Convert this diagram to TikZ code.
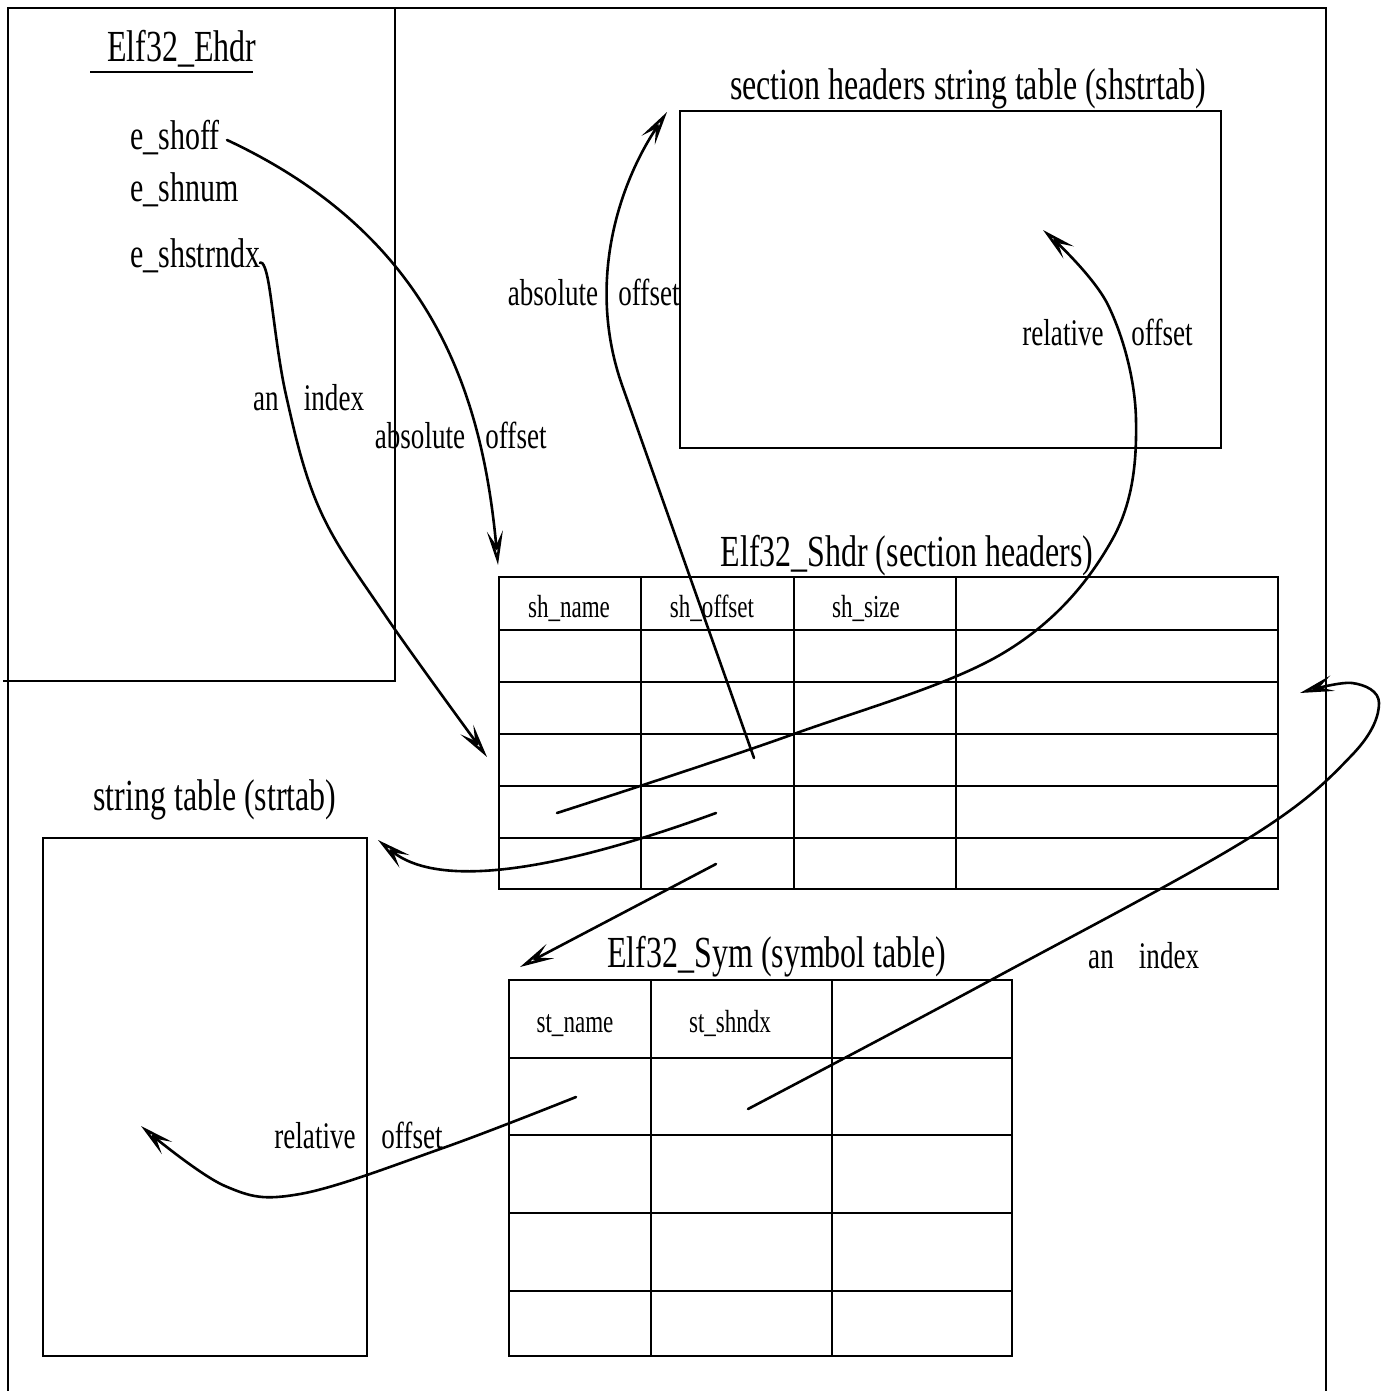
\documentclass[tikz,border=0pt]{standalone}
\usepackage{fontspec}
\newfontfamily\figfont[FakeStretch=0.72]{Liberation Serif}
\usetikzlibrary{arrows.meta}
\begin{document}
\begin{tikzpicture}[x=0.5pt,y=-0.5pt,
  frame/.style={line width=1pt},
  conn/.style={line width=1.3pt, line join=round, line cap=round,
    -{Stealth[open,length=17pt,width=8pt,inset=7pt]}},
  ttl/.style={font=\figfont\fontsize{22.2}{26}\selectfont, anchor=base, inner sep=0pt},
  fld/.style={font=\figfont\fontsize{20.8}{25}\selectfont, anchor=base west, inner sep=0pt},
  lbl/.style={font=\figfont\fontsize{18.8}{23}\selectfont, anchor=base, inner sep=0pt},
  cellt/.style={font=\figfont\fontsize{16}{19}\selectfont, anchor=base, inner sep=0pt}]
\useasboundingbox (0,0) rectangle (1386,1391);

% outer frame and Ehdr box
\draw[frame] (8,1391) -- (8,8) -- (1326,8) -- (1326,1391);
\draw[frame] (395,8) -- (395,681) -- (3,681);

% Ehdr contents
\node[ttl] (ehdrT) at (182,62) {Elf32\_Ehdr};
\draw[line width=1pt] (90,72) -- (253,72);
\node[fld] (eshoff) at (130,150) {e\_shoff};
\node[fld] (eshnum) at (130,202) {e\_shnum};
\node[fld] (eshstrndx) at (130,268) {e\_shstrndx};

% shstrtab
\node[ttl] (shstrT) at (968,100) {section headers string table (shstrtab)};
\draw[frame] (680,111) rectangle (1221,448);

% Shdr table
\node[ttl] (shdrT) at (907,566) {Elf32\_Shdr (section headers)};
\draw[frame] (499,577) rectangle (1278,889);
\foreach \yy in {630,682,734,786,838} \draw[frame] (499,\yy) -- (1278,\yy);
\foreach \xx in {641,794,956} \draw[frame] (\xx,577) -- (\xx,889);
\node[cellt] (shname) at (569,617) {sh\_name};
\node[cellt] (shoffset) at (712,617) {sh\_offset};
\node[cellt] (shsize) at (866,617) {sh\_size};

% strtab
\node[ttl] (strT) at (215,810) {string table (strtab)};
\draw[frame] (43,838) rectangle (367,1356);

% Sym table
\node[ttl] (symT) at (777,967) {Elf32\_Sym (symbol table)};
\draw[frame] (509,980) rectangle (1012,1356);
\foreach \yy in {1058,1135,1213,1291} \draw[frame] (509,\yy) -- (1012,\yy);
\foreach \xx in {651,832} \draw[frame] (\xx,980) -- (\xx,1356);
\node[cellt] (stname) at (575,1032) {st\_name};
\node[cellt] (stshndx) at (730,1032) {st\_shndx};

% labels
\node[lbl] (l1a) at (266,410) {an};
\node[lbl] (l1b) at (334,410) {index};
\node[lbl] (l2a) at (420,448) {absolute};
\node[lbl] (l2b) at (516,448) {offset};
\node[lbl] (l3a) at (553,305) {absolute};
\node[lbl] (l3b) at (649,305) {offset};
\node[lbl] (l4a) at (1063,345) {relative};
\node[lbl] (l4b) at (1162,345) {offset};
\node[lbl] (l5a) at (315,1148) {relative};
\node[lbl] (l5b) at (412,1148) {offset};
\node[lbl] (l6a) at (1101,968) {an};
\node[lbl] (l6b) at (1169,968) {index};

% connector end points
\coordinate (c1s) at (227,140);   \coordinate (c1e) at (498,565);
\coordinate (c2s) at (260,263);   \coordinate (c2e) at (487,757);
\coordinate (c3s) at (754,758);   \coordinate (c3m) at (622,385);
\coordinate (c3e) at (667,112);
\coordinate (c4s) at (557,813);   \coordinate (c4e) at (1043,230);
\coordinate (c5s) at (716,813);   \coordinate (c5e) at (378,840);
\coordinate (c6s) at (716,864);   \coordinate (c6e) at (520,967);
\coordinate (c7s) at (576,1097);  \coordinate (c7e) at (141,1126);
\coordinate (c8s) at (748,1109);  \coordinate (c8e) at (1300,693);

% connectors
\draw[conn] (c1s) .. controls (430,235) and (482,390) .. (c1e);
\draw[conn] plot[smooth, tension=0.6] coordinates {(c2s) (268,280) (286,395) (320,510) (385,615) (c2e)};
\draw[conn] (c3s) -- (c3m) .. controls (587,285) and (617,187) .. (c3e);
\draw[conn] plot[smooth, tension=0.6] coordinates {(c4s) (791,735) (1005,652) (1112,540) (1136,420) (1108,305) (c4e)};
\draw[conn] (c5s) .. controls (560,870) and (440,890) .. (c5e);
\draw[conn] (c6s) -- (c6e);
\draw[conn] plot[smooth, tension=0.6] coordinates {(c7s) (443,1148) (300,1194) (225,1186) (c7e)};
\draw[conn] plot[smooth, tension=0.6] coordinates {(c8s) (991,980) (1249,838) (1352,755) (1379,703) (1352,683) (c8e)};
\end{tikzpicture}
\end{document}
